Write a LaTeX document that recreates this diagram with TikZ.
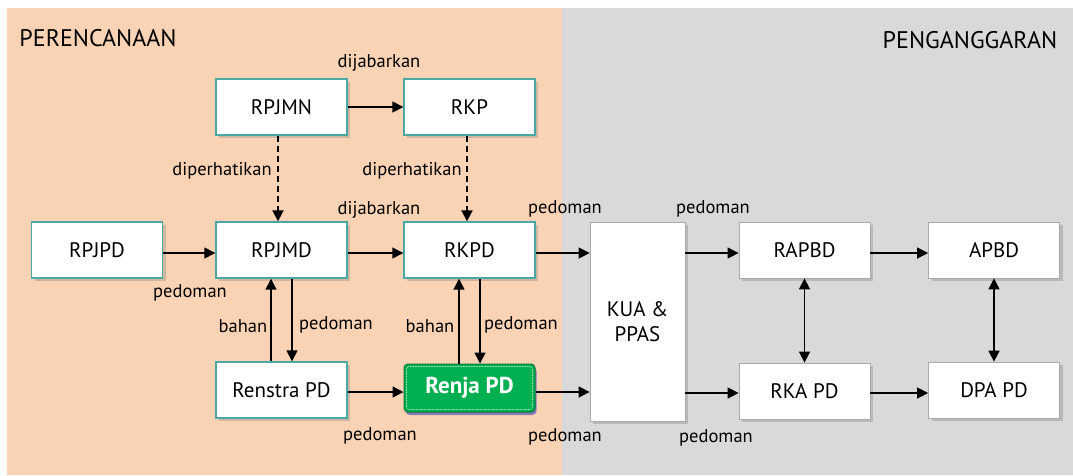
\documentclass[tikz,border=0pt]{standalone}
\usepackage{fontspec}
\setmainfont{PT Sans}
\usetikzlibrary{arrows.meta,shadows,positioning}
\definecolor{peach}{RGB}{250,211,180}
\definecolor{greybg}{RGB}{217,217,217}
\definecolor{teal}{RGB}{75,168,164}
\definecolor{boxgrey}{RGB}{170,170,170}
\definecolor{renjagreen}{RGB}{0,176,80}
\begin{document}
\begin{tikzpicture}[x=1pt,y=-1pt,
  plan/.style={draw=teal,line width=1.4pt,fill=white,minimum width=131pt,minimum height=56pt,inner sep=0pt,font=\fontsize{21}{23}\selectfont,
     drop shadow={opacity=0.35,shadow xshift=3pt,shadow yshift=-3pt}},
  budg/.style={plan,draw=boxgrey,line width=0.8pt},
  conn/.style={line width=1.5pt,-{Triangle[length=11pt,width=11pt]}},
  dconn/.style={conn,line width=2pt,dash pattern=on 6pt off 4pt},
  both/.style={line width=1.5pt,{Triangle[length=11pt,width=11pt]}-{Triangle[length=11pt,width=11pt]}},
  lbl/.style={font=\fontsize{18.5}{20}\selectfont,inner sep=0pt},
  ttl/.style={font=\fontsize{24}{26}\selectfont,inner sep=0pt}]
\useasboundingbox (0,0) rectangle (1073,475);
\fill[white] (0,0) rectangle (1073,475);
\fill[peach] (7,8) rectangle (562,475);
\fill[greybg] (562,8) rectangle (1073,475);

\node[ttl] (tplan) at (98,38) {PERENCANAAN};
\node[ttl] (tbudg) at (970,40) {PENGANGGARAN};

\node[plan] (rpjmn) at (281.5,107) {RPJMN};
\node[plan] (rkp) at (469.5,107) {RKP};
\node[plan] (rpjpd) at (97,250) {RPJPD};
\node[plan] (rpjmd) at (281.5,250) {RPJMD};
\node[plan] (rkpd) at (469.5,250) {RKPD};
\node[plan] (renstra) at (281.5,390) {Renstra PD};
\node[draw=renjagreen!70!black,line width=1pt,fill=renjagreen,rounded corners=4pt,minimum width=131pt,minimum height=48pt,inner sep=0pt,
  text=white,font=\fontsize{23}{25}\selectfont\bfseries,
  drop shadow={opacity=0.6,fill=blue!50!gray,shadow xshift=1.5pt,shadow yshift=-3pt}] (renja) at (469.5,388) {Renja PD};
\draw[white,densely dotted,line width=0.6pt,rounded corners=3pt] ([shift={(3pt,-3pt)}]renja.north west) rectangle ([shift={(-3pt,3pt)}]renja.south east);

\node[budg,minimum width=95pt,minimum height=199pt,align=center,font=\fontsize{21}{25}\selectfont] (kua) at (637.5,321.5) {KUA \&\\PPAS};
\node[budg] (rapbd) at (804.5,250) {RAPBD};
\node[budg] (apbd) at (994,250) {APBD};
\node[budg] (rka) at (804.5,391) {RKA PD};
\node[budg] (dpa) at (994,390) {DPA PD};

% connectors
\draw[conn] (rpjmn) -- (rkp);
\draw[dconn] ([xshift=-3.5pt]rpjmn.south) -- ([xshift=-3.5pt]rpjmd.north);
\draw[dconn] ([xshift=-2.5pt]rkp.south) -- ([xshift=-2.5pt]rkpd.north);
\draw[conn] ([yshift=-3pt]rpjpd.east) -- ([yshift=-3pt]rpjmd.west);
\draw[conn] ([yshift=-3pt]rpjmd.east) -- ([yshift=-3pt]rkpd.west);
\draw[conn] ([yshift=-3pt]rkpd.east) -- ([yshift=-3pt]rkpd.east -| kua.west);
\draw[conn] ([xshift=-10.5pt]renstra.north) -- ([xshift=-10.5pt]rpjmd.south);
\draw[conn] ([xshift=10.5pt]rpjmd.south) -- ([xshift=10.5pt]renstra.north);
\draw[conn] ([xshift=-10.5pt]renja.north) -- ([xshift=-10.5pt]rkpd.south);
\draw[conn] ([xshift=10.5pt]rkpd.south) -- ([xshift=10.5pt]renja.north);
\draw[conn] ([yshift=-2pt]renstra.east) -- ([yshift=-2pt]renstra.east -| renja.west);
\draw[conn] ([yshift=-4pt]renja.east) -- ([yshift=-4pt]renja.east -| kua.west);
\draw[conn] (kua.east |- rapbd.east) ++(0,3) coordinate (k1) (k1) -- (k1 -| rapbd.west);
\draw[conn] (kua.east |- rka.east) ++(0,2) coordinate (k2) (k2) -- (k2 -| rka.west);
\draw[conn] ([yshift=-3pt]rapbd.east) -- ([yshift=-3pt]apbd.west);
\draw[conn] ([yshift=-2pt]rka.east) -- ([yshift=-2pt]rka.east -| dpa.west);
\draw[both] (rapbd) -- (rka);
\draw[both] (apbd) -- (dpa);

% labels
\node[lbl] (l1) at (379,63) {dijabarkan};
\node[lbl] (l2) at (222,171) {diperhatikan};
\node[lbl] (l3) at (412,171) {diperhatikan};
\node[lbl] (l4) at (379,210) {dijabarkan};
\node[lbl] (l5) at (190,293) {pedoman};
\node[lbl] (l6) at (565,209) {pedoman};
\node[lbl] (l7) at (713,209) {pedoman};
\node[lbl] (l8) at (243,326) {bahan};
\node[lbl] (l9) at (336,325) {pedoman};
\node[lbl] (l10) at (430,326) {bahan};
\node[lbl] (l11) at (521,325) {pedoman};
\node[lbl] (l12) at (380,436) {pedoman};
\node[lbl] (l13) at (565,437) {pedoman};
\node[lbl] (l14) at (716,438) {pedoman};
\end{tikzpicture}
\end{document}
